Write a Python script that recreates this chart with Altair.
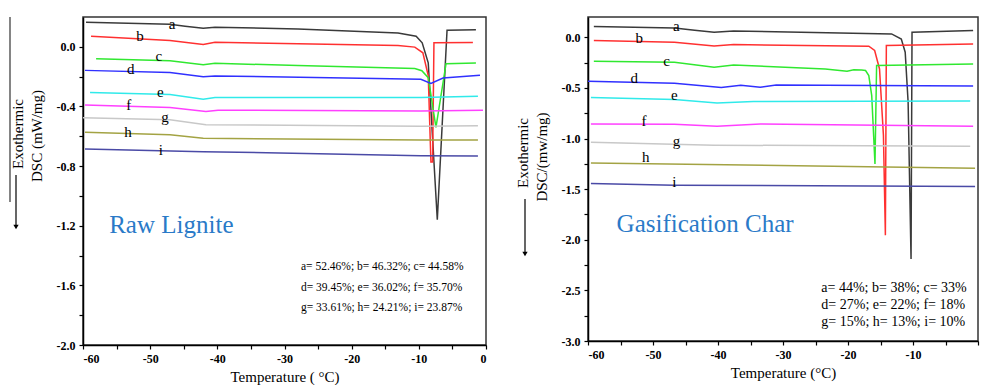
import altair as alt
import pandas as pd

CURVES = ["a", "b", "c", "d", "e", "f", "g", "h", "i"]
COLORS = ["#3a3a3a", "#ff3030", "#30e830", "#3030ff", "#30eaea",
          "#ff40ff", "#c8c8c8", "#a3a343", "#4a4aa6"]

# ---------------- Raw Lignite (left panel) ----------------
RAW_A_T = [-59.55, -47.05, -44.8, -42.1, -40.35, -28.0, -13.1, -10.4, -9.5, -8.6, -7.25, -5.8, -1.5]
RAW_A_V = [0.165, 0.151, 0.138, 0.125, 0.131, 0.12, 0.093, 0.071, 0.027, -0.107, -1.16, 0.111, 0.115]
RAW_B_T = [-58.8, -47.05, -42.1, -40.35, -28.0, -13.1, -10.6, -9.4, -8.6, -8.2, -7.95, -7.75, -1.95]
RAW_B_V = [0.071, 0.042, 0.015, 0.031, 0.02, 0.009, -0.002, -0.04, -0.193, -0.773, -0.773, 0.027, 0.029]
RAW_C_T = [-58.05, -47.05, -42.1, -40.35, -28.0, -10.6, -9.55, -8.6, -7.45, -5.95, -1.5]
RAW_C_V = [-0.08, -0.093, -0.12, -0.111, -0.125, -0.145, -0.16, -0.207, -0.54, -0.113, -0.109]
RAW_D_T = [-59.7, -47.05, -42.1, -40.35, -9.7, -8.2, -6.4, -0.9]
RAW_D_V = [-0.158, -0.173, -0.2, -0.195, -0.218, -0.245, -0.209, -0.191]
RAW_E_T = [-58.95, -47.05, -42.1, -40.35, -9.7, -1.2]
RAW_E_V = [-0.307, -0.32, -0.351, -0.34, -0.34, -0.331]
RAW_F_T = [-59.7, -47.05, -41.7, -39.9, -9.7, -0.45]
RAW_F_V = [-0.391, -0.407, -0.433, -0.425, -0.431, -0.425]
RAW_G_T = [-60.0, -47.05, -41.7, -9.7, -1.2]
RAW_G_V = [-0.475, -0.49, -0.522, -0.533, -0.529]
RAW_H_T = [-59.7, -47.05, -42.1, -9.7, -1.2]
RAW_H_V = [-0.573, -0.59, -0.613, -0.625, -0.625]
RAW_I_T = [-59.7, -42.1, -9.7, -1.2]
RAW_I_V = [-0.685, -0.703, -0.73, -0.733]

RAW_LABEL_T = [-46.75, -51.5, -48.7, -52.9, -48.5, -53.2, -47.8, -53.3, -48.4]
RAW_LABEL_V = [0.155, 0.071, -0.062, -0.151, -0.302, -0.391, -0.473, -0.573, -0.691]
RAW_NOTES = ["a= 52.46%; b= 46.32%; c= 44.58%",
             "d= 39.45%; e= 36.02%; f= 35.70%",
             "g= 33.61%; h= 24.21%; i= 23.87%"]
RAW_NOTES_T = [-27.55, -27.55, -27.55]
RAW_NOTES_V = [-1.48, -1.62, -1.753]

# ---------------- Gasification Char (right panel) ----------------
GAS_A_T = [-59.1, -46.7, -43.6, -40.6, -37.6, -13.3, -11.8, -11.2, -10.75, -10.3, -10.15, -0.75]
GAS_A_V = [0.106, 0.092, 0.069, 0.049, 0.062, 0.033, -0.017, -0.148, -0.642, -2.19, 0.049, 0.066]
GAS_B_T = [-59.1, -46.7, -40.6, -37.6, -16.8, -15.9, -15.15, -14.55, -14.25, -14.1, -0.75]
GAS_B_V = [-0.033, -0.049, -0.086, -0.072, -0.089, -0.131, -0.313, -0.967, -1.955, -0.082, -0.066]
GAS_C_T = [-59.1, -46.7, -40.6, -37.6, -23.5, -20.15, -19.1, -17.9, -17.3, -16.8, -16.35, -15.85, -15.6, -0.75]
GAS_C_V = [-0.237, -0.247, -0.296, -0.273, -0.313, -0.336, -0.321, -0.323, -0.329, -0.378, -0.576, -1.251, -0.279, -0.264]
GAS_D_T = [-60.0, -46.7, -39.5, -36.5, -33.5, -31.05, -0.75]
GAS_D_V = [-0.434, -0.454, -0.497, -0.474, -0.494, -0.471, -0.481]
GAS_E_T = [-59.55, -46.7, -40.15, -34.55, -1.2]
GAS_E_V = [-0.595, -0.615, -0.649, -0.635, -0.629]
GAS_F_T = [-59.55, -46.7, -40.15, -33.5, -0.75]
GAS_F_V = [-0.856, -0.859, -0.879, -0.856, -0.879]
GAS_G_T = [-59.55, -40.6, -1.2]
GAS_G_V = [-1.037, -1.066, -1.076]
GAS_H_T = [-59.55, -0.45]
GAS_H_V = [-1.241, -1.293]
GAS_I_T = [-59.55, -46.7, -0.45]
GAS_I_V = [-1.444, -1.461, -1.474]

GAS_LABEL_T = [-46.4, -52.1, -47.9, -52.9, -46.7, -51.4, -46.4, -51.1, -46.7]
GAS_LABEL_V = [0.116, -0.007, -0.237, -0.405, -0.566, -0.829, -1.02, -1.185, -1.425]
GAS_NOTES = ["a= 44%; b= 38%; c= 33%",
             "d= 27%; e= 22%; f= 18%",
             "g= 15%; h= 13%; i= 10%"]
GAS_NOTES_T = [-24.1, -24.1, -24.1]
GAS_NOTES_V = [-2.478, -2.646, -2.813]

X_TICKS = list(range(-60, 1, 5))
RAW_Y_TICKS = [round(-2.0 + 0.2 * k, 1) for k in range(11)]
GAS_Y_TICKS = [round(-3.0 + 0.25 * k, 2) for k in range(13)]

SERIF = "Liberation Serif"
TITLE_BLUE = "#2a7ac8"
MINUS = "\u2212"


def curves_df(ts_list, vs_list):
    rows = []
    for letter, ts, vs in zip(CURVES, ts_list, vs_list):
        for k, (t, v) in enumerate(zip(ts, vs)):
            rows.append({"curve": letter, "T": t, "V": v, "idx": k})
    return pd.DataFrame(rows)


def panel(ts_list, vs_list, lab_t, lab_v, notes, notes_t, notes_v, note_size, ydom, yticks,
          ylabel_expr, xlabel_expr, xtitle, title, title_t, title_v, ytitle, ytitle_y,
          w, h, deco, extra_line):
    xenc = alt.X("T:Q", scale=alt.Scale(domain=[-60, 0], nice=False, zero=False),
                 axis=alt.Axis(values=X_TICKS, title=xtitle, labelPadding=4, titlePadding=5,
                               labelExpr=xlabel_expr))
    yenc = alt.Y("V:Q", scale=alt.Scale(domain=ydom, nice=False, zero=False),
                 axis=alt.Axis(values=yticks, title=None, labelPadding=4,
                               labelExpr=ylabel_expr))
    df = curves_df(ts_list, vs_list)
    lines = alt.Chart(df).mark_line(strokeWidth=1.5, clip=True).encode(
        x=xenc, y=yenc,
        color=alt.Color("curve:N", scale=alt.Scale(domain=CURVES, range=COLORS), legend=None),
        order=alt.Order("idx:Q"),
    )
    lab_df = pd.DataFrame({"curve": CURVES, "T": lab_t, "V": lab_v})
    letters = alt.Chart(lab_df).mark_text(font=SERIF, fontSize=15, color="black",
                                          baseline="middle").encode(
        x=xenc, y=yenc, text="curve:N")
    note_df = pd.DataFrame({"note": notes, "T": notes_t, "V": notes_v})
    note_txt = alt.Chart(note_df).mark_text(font=SERIF, fontSize=note_size, color="black",
                                            align="left", baseline="middle").encode(
        x=xenc, y=yenc, text="note:N")
    title_df = pd.DataFrame({"name": [title], "T": [title_t], "V": [title_v]})
    title_txt = alt.Chart(title_df).mark_text(font=SERIF, fontSize=25, color=TITLE_BLUE,
                                              align="left", baseline="middle").encode(
        x=xenc, y=yenc, text="name:N")
    # rotated y-axis captions and arrow (outside the plot area)
    ytl_df = pd.DataFrame({"t": [ytitle]})
    ytl = alt.Chart(ytl_df).mark_text(font=SERIF, fontSize=15, angle=270, color="black",
                                      baseline="middle", align="center").encode(
        x=alt.value(-46), y=alt.value(ytitle_y), text="t:N")
    exo_df = pd.DataFrame({"t": ["Exothermic"]})
    exo = alt.Chart(exo_df).mark_text(font=SERIF, fontSize=15, angle=270, color="black",
                                      baseline="middle", align="center").encode(
        x=alt.value(-65), y=alt.value(deco[2]), text="t:N")
    one = pd.DataFrame({"k": [0]})
    arrow_line = alt.Chart(one).mark_rule(color="black", strokeWidth=1.2).encode(
        x=alt.value(deco[3]), y=alt.value(deco[0]), y2=alt.value(deco[1] - 3))
    arrow_head = alt.Chart(one).mark_point(shape="triangle-down", filled=True, color="black",
                                           size=28, opacity=1).encode(
        x=alt.value(deco[3]), y=alt.value(deco[1] - 3))
    layers = [lines, letters, note_txt, title_txt, ytl, exo, arrow_line, arrow_head]
    if extra_line:
        lline = alt.Chart(one).mark_rule(color="#333333", strokeWidth=1.2).encode(
            x=alt.value(-73), y=alt.value(0), y2=alt.value(extra_line))
        layers.append(lline)
    return alt.layer(*layers).properties(width=w, height=h)


Y_LABEL_RAW = ("abs(round(datum.value * 10)) % 4 == 0 ? replace(format(datum.value, '.1f'), '"
               + MINUS + "', '-') : ''")
Y_LABEL_GAS = ("abs(round(datum.value * 4)) % 2 == 0 ? replace(format(datum.value, '.1f'), '"
               + MINUS + "', '-') : ''")
X_LABEL_RAW = "datum.value % 10 == 0 ? '' + datum.value : ''"
X_LABEL_GAS = "datum.value % 10 == 0 && datum.value < 0 ? '' + datum.value : ''"

left = panel([RAW_A_T, RAW_B_T, RAW_C_T, RAW_D_T, RAW_E_T, RAW_F_T, RAW_G_T, RAW_H_T, RAW_I_T],
             [RAW_A_V, RAW_B_V, RAW_C_V, RAW_D_V, RAW_E_V, RAW_F_V, RAW_G_V, RAW_H_V, RAW_I_V],
             RAW_LABEL_T, RAW_LABEL_V, RAW_NOTES, RAW_NOTES_T, RAW_NOTES_V, 11.5,
             [-2.0, 0.2], RAW_Y_TICKS, Y_LABEL_RAW, X_LABEL_RAW,
             "Temperature ( \u00b0C)", "Raw Lignite", -56.1, -1.193, "DSC (mW/mg)", 119,
             403, 328, (158, 213, 117, -67), 185)

right = panel([GAS_A_T, GAS_B_T, GAS_C_T, GAS_D_T, GAS_E_T, GAS_F_T, GAS_G_T, GAS_H_T, GAS_I_T],
              [GAS_A_V, GAS_B_V, GAS_C_V, GAS_D_V, GAS_E_V, GAS_F_V, GAS_G_V, GAS_H_V, GAS_I_V],
              GAS_LABEL_T, GAS_LABEL_V, GAS_NOTES, GAS_NOTES_T, GAS_NOTES_V, 14,
              [-3.0, 0.2], GAS_Y_TICKS, Y_LABEL_GAS, X_LABEL_GAS,
              "Temperature (\u00b0C)", "Gasification Char", -55.6, -1.846, "DSC/(mw/mg)", 140,
              390, 324, (182, 240, 136, -63), 0)

chart = alt.hconcat(left, right, spacing=27).properties(
    padding={"left": 0, "top": 7, "right": 0, "bottom": 0},
    background="white",
).configure_axis(
    labelFont=SERIF, labelFontSize=12, labelFontWeight="bold", labelColor="black",
    titleFont=SERIF, titleFontSize=15, titleFontWeight="normal", titleColor="black",
    domainColor="black", domainWidth=1.5, tickColor="black", tickWidth=1.2, tickSize=4,
    grid=False,
).configure_view(stroke="#333333", strokeWidth=1.5)

chart.save("out.html", embed_options={"renderer": "svg", "actions": False})
